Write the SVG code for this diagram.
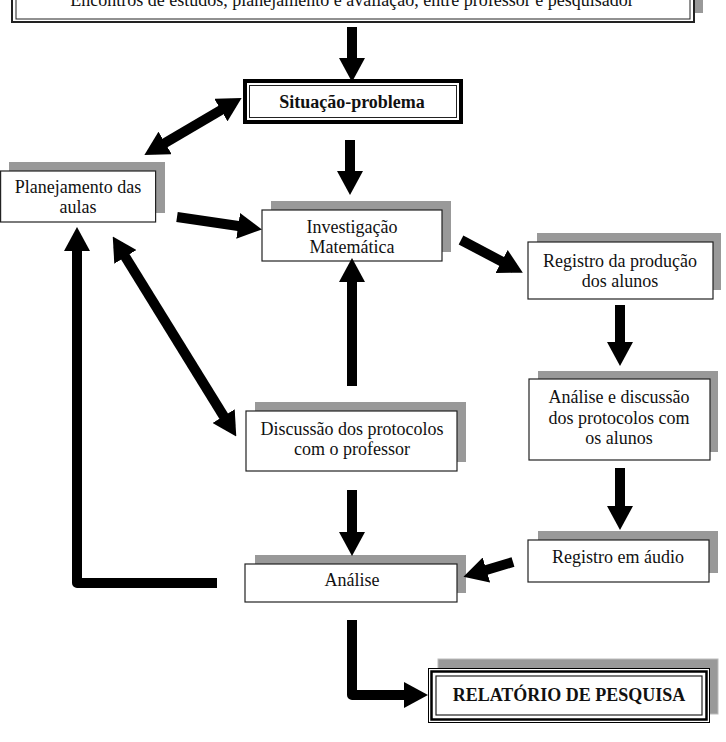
<svg xmlns="http://www.w3.org/2000/svg" width="726" height="742" viewBox="0 0 726 742">
<style>
.bx{fill:#fff;stroke:#222;stroke-width:1.2}
.sh{fill:#999}
.t{font-family:"Liberation Serif","Times New Roman",serif;font-size:18px;fill:#111;text-anchor:middle}
.b{font-weight:bold}
.ar{fill:none;stroke:#000;stroke-width:10;marker-end:url(#ah)}
.ar2{fill:none;stroke:#000;stroke-width:10;marker-end:url(#ah);marker-start:url(#ah)}
</style>
<defs>
<marker id="ah" markerUnits="userSpaceOnUse" viewBox="0 0 24 26" markerWidth="24" markerHeight="26" refX="14" refY="13" orient="auto-start-reverse">
<path d="M0,0 L24,13 L0,26 z" fill="#000"/>
</marker>
</defs>
<rect width="726" height="742" fill="#fff"/>

<g id="n-encontros">
<rect class="sh" x="21" y="-20" width="682" height="33"/>
<rect x="12" y="-10" width="682" height="32" fill="#fff" stroke="#222" stroke-width="2"/>
<rect x="16" y="-10" width="674" height="29" fill="none" stroke="#222" stroke-width="1"/>
<text class="t" x="352" y="6">Encontros de estudos, planejamento e avaliação, entre professor e pesquisador</text>
</g>

<g id="n-situacao">
<rect x="245" y="81" width="216" height="41" fill="#fff" stroke="#000" stroke-width="4"/>
<rect x="249.5" y="85.5" width="207" height="32" fill="none" stroke="#222" stroke-width="1"/>
<text class="t b" x="352" y="108">Situação-problema</text>
</g>

<g id="n-planejamento">
<rect class="sh" x="9" y="162" width="156" height="51"/>
<rect class="bx" x="0.6" y="171" width="155" height="51"/>
<text class="t" x="78" y="193">Planejamento das</text>
<text class="t" x="78" y="213">aulas</text>
</g>

<g id="n-investigacao">
<rect class="sh" x="271" y="201" width="180" height="51"/>
<rect class="bx" x="262" y="210" width="180" height="51"/>
<text class="t" x="352" y="233">Investigação</text>
<text class="t" x="352" y="253">Matemática</text>
</g>

<g id="n-registro-producao">
<rect class="sh" x="537" y="233" width="184" height="57"/>
<rect class="bx" x="528" y="242" width="185" height="57"/>
<text class="t" x="620" y="267">Registro da produção</text>
<text class="t" x="620" y="287">dos alunos</text>
</g>

<g id="n-analise-discussao">
<rect class="sh" x="538" y="371" width="180" height="81"/>
<rect class="bx" x="529" y="379" width="181" height="81"/>
<text class="t" x="619" y="403">Análise e discussão</text>
<text class="t" x="619" y="424">dos protocolos com</text>
<text class="t" x="619" y="444">os alunos</text>
</g>

<g id="n-discussao">
<rect class="sh" x="255" y="402" width="211" height="60"/>
<rect class="bx" x="246" y="411" width="211" height="60"/>
<text class="t" x="352" y="435">Discussão dos protocolos</text>
<text class="t" x="352" y="455">com o professor</text>
</g>

<g id="n-registro-audio">
<rect class="sh" x="538" y="531" width="180" height="42"/>
<rect class="bx" x="528" y="540" width="181" height="42"/>
<text class="t" x="618" y="563">Registro em áudio</text>
</g>

<g id="n-analise">
<rect class="sh" x="255" y="555" width="211" height="38"/>
<rect class="bx" x="245" y="564" width="212" height="38"/>
<text class="t" x="352" y="586">Análise</text>
</g>

<g id="n-relatorio">
<rect x="438" y="659" width="280" height="55" fill="#999" stroke="#bbb" stroke-width="1"/>
<rect x="428.5" y="668.5" width="281" height="54" fill="#fff" stroke="#000" stroke-width="1"/>
<rect x="431.5" y="671.5" width="275" height="48" fill="none" stroke="#000" stroke-width="2.5"/>
<rect x="436" y="676" width="266" height="39" fill="none" stroke="#222" stroke-width="1.2"/>
<text class="t b" x="569" y="701">RELATÓRIO DE PESQUISA</text>
</g>

<g id="connectors">
<line class="ar" x1="352" y1="27" x2="352" y2="72"/>
<line class="ar2" x1="153" y1="150" x2="233" y2="103"/>
<line class="ar" x1="350" y1="140" x2="350" y2="185"/>
<line class="ar" x1="177" y1="217" x2="252" y2="228"/>
<line class="ar" x1="461" y1="240" x2="514" y2="268"/>
<line class="ar" x1="620" y1="305" x2="620" y2="356"/>
<line class="ar" x1="620" y1="468" x2="620" y2="520"/>
<line class="ar" x1="513" y1="562" x2="473" y2="574"/>
<line class="ar" x1="352" y1="386" x2="352" y2="268"/>
<line class="ar2" x1="118" y1="245" x2="231" y2="428"/>
<line class="ar" x1="352" y1="490" x2="352" y2="546"/>
<path class="ar" d="M217,583 L77,583 L77,237" stroke-linejoin="round"/>
<path class="ar" d="M352,620 L352,695 L418,695" stroke-linejoin="round"/>
</g>
</svg>
